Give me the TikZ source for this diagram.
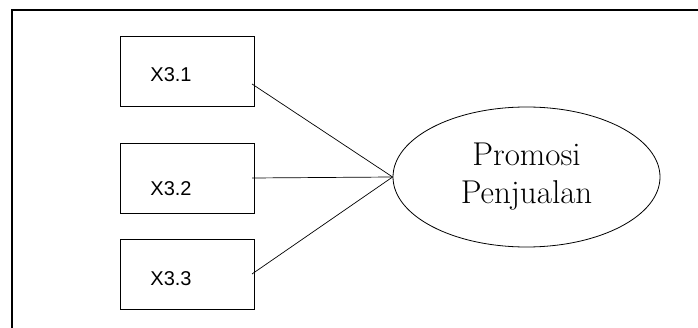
\documentclass[tikz,border=0pt]{standalone}
\usepackage{fontspec}
\newfontfamily\labelfont{Liberation Sans}
\usetikzlibrary{shapes.geometric}
\begin{document}
\begin{tikzpicture}[x=1pt,y=-1pt,
  indicator/.style={draw, line width=0.8pt, minimum width=134pt, minimum height=70pt, inner sep=0pt},
  itemlabel/.style={font=\labelfont\fontsize{20}{24}\selectfont, inner sep=0pt, anchor=center},
  link/.style={line width=0.7pt},
  construct/.style={draw, ellipse, line width=0.8pt, minimum width=267pt, minimum height=140pt, inner sep=0pt,
    align=center, font=\fontsize{33}{38}\selectfont}]
  \useasboundingbox (0,0) rectangle (698,328);
  % outer frame: only the top and left edges fall inside the page
  \draw[line width=2pt] (698,10.5) -- (11.5,10.5) -- (11.5,328);

  % indicator boxes
  \node[indicator] (b1) at (187,71) {};
  \node[indicator] (b2) at (187,178) {};
  \node[indicator] (b3) at (187,274) {};
  \node[itemlabel] (t1) at (171,75) {X3.1};
  \node[itemlabel] (t2) at (171,189) {X3.2};
  \node[itemlabel] (t3) at (171,279) {X3.3};

  % latent construct
  \node[construct] (e) at (526.5,177) {Promosi\\Penjualan};

  % connector start points just inside the boxes' right edges
  \coordinate (p1) at (252,84);
  \coordinate (p2) at (252,178);
  \coordinate (p3) at (252,274);
  \draw[link] (p1) -- (e.west);
  \draw[link] (p2) -- (e.west);
  \draw[link] (p3) -- (e.west);
\end{tikzpicture}
\end{document}
